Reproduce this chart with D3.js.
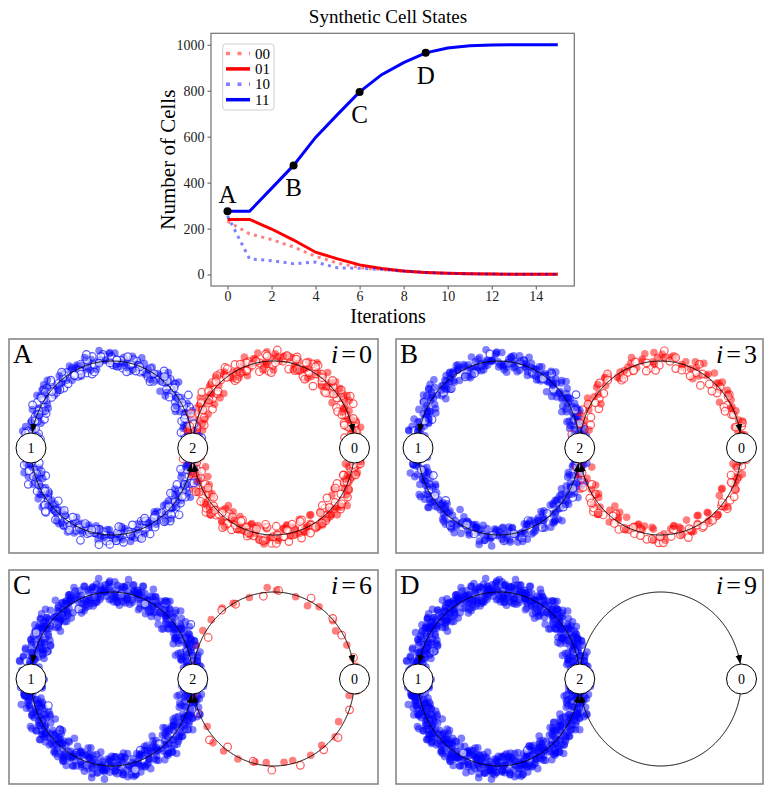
<!DOCTYPE html>
<html>
<head>
<meta charset="utf-8">
<script src="https://cdn.jsdelivr.net/npm/d3@7"></script>
<style>
  body { margin: 0; background: #fff; }
  svg { display: block; font-family: "Liberation Serif", "DejaVu Serif", serif; }
</style>
</head>
<body>
<svg id="chart" width="772" height="794"></svg>
<script>
// ---- values ----
const iterations = [0, 1, 2, 3, 4, 5, 6, 7, 8, 9, 10, 11, 12, 13, 14, 15];
const stateNames = ['00', '01', '10', '11'];
const cells00 = [232, 177, 152, 120, 79, 50, 30, 22, 14, 8, 5, 3, 2, 1, 1, 1];
const cells01 = [240, 240, 198, 150, 97, 68, 42, 26, 15, 9, 5, 3, 2, 1, 1, 1];
const cells10 = [255, 68, 60, 47, 54, 29, 27, 22, 15, 9, 5, 3, 2, 1, 1, 1];
const cells11 = [275, 275, 375, 475, 597, 697, 795, 870, 922, 965, 986, 996, 999, 1000, 1000, 1000];
const xTicks = [0, 2, 4, 6, 8, 10, 12, 14];
const yTicks = [0, 200, 400, 600, 800, 1000];
const markIters = [0, 3, 6, 9];
const markLabels = ['A', 'B', 'C', 'D'];

// scatter panels: how many cells of each state sit on the rings
const panelLabels = ['A', 'B', 'C', 'D'];
const panelIters = [0, 3, 6, 9];
const panel00 = [232, 120, 22, 0];
const panel01 = [240, 150, 32, 0];
const panel10 = [255, 47, 27, 8];
const panel11 = [275, 475, 795, 965];
const nodeNames = ['1', '2', '0'];   // left, middle, right

// spread tables used to scatter cells across the ring width
const jitterR = [0.42, -0.77, 0.15, 0.88, -0.31, -0.95, 0.63, 0.07, -0.52, 0.34, -0.12, 0.71, -0.66,
  0.26, 0.97, -0.41, -0.03, 0.55, -0.84, 0.19, 0.8, -0.23, -0.6, 0.46, 0.02, -0.9, 0.37, 0.68, -0.17,
  -0.48, 0.92, 0.11, -0.72, 0.58, -0.35, 0.29, -0.99];
const jitterA = [0.31, -0.64, 0.87, -0.12, 0.5, -0.93, 0.05, 0.72, -0.38, 0.19, -0.81, 0.6, -0.26,
  0.94, -0.55, 0.13, -0.07, 0.44, -0.7, 0.83, -0.45, 0.27, -0.98, 0.66, -0.19, 0.39, -0.6, 0.09, 0.77];

const stateStyle = {
  '00': {color: '#ff0000', opacity: 0.5, dash: '3,4.5', filled: false},
  '01': {color: '#ff0000', opacity: 1, dash: null, filled: true},
  '10': {color: '#0000ff', opacity: 0.5, dash: '3,4.5', filled: false},
  '11': {color: '#0000ff', opacity: 1, dash: null, filled: true}
};

const svg = d3.select('#chart');

svg.append('defs').append('marker')
    .attr('id', 'arrow')
    .attr('viewBox', '0 0 10 10')
    .attr('refX', 10)
    .attr('refY', 5)
    .attr('markerUnits', 'userSpaceOnUse')
    .attr('markerWidth', 9)
    .attr('markerHeight', 9)
    .attr('orient', 'auto')
  .append('path')
    .attr('d', 'M0,1.2L10,5L0,8.8Z')
    .attr('fill', '#000');

class CellStateChart {

    constructor(_config, _data) {
        this.config = {
          parentElement: _config.parentElement,
          left: 211, top: 33.3, width: 363.3, height: 252.7
        }
        this.data = _data;
        this.initVis();
    }

    initVis() {
        let vis = this;
        const c = vis.config;

        vis.xScale = d3.scaleLinear().domain([-0.75, 15.75]).range([c.left, c.left + c.width]);
        vis.yScale = d3.scaleLinear().domain([-50, 1050]).range([c.top + c.height, c.top]);

        vis.g = c.parentElement.append('g');

        vis.xAxisG = vis.g.append('g')
            .attr('transform', `translate(0,${c.top + c.height})`)
            .call(d3.axisBottom(vis.xScale).tickValues(xTicks).tickSize(3.5).tickSizeOuter(0).tickPadding(2));
        vis.yAxisG = vis.g.append('g')
            .attr('transform', `translate(${c.left},0)`)
            .call(d3.axisLeft(vis.yScale).tickValues(yTicks).tickFormat(d3.format('d'))
                .tickSize(3.5).tickSizeOuter(0).tickPadding(3));

        vis.g.selectAll('.domain').remove();
        vis.g.selectAll('.tick line').attr('stroke', '#555');
        vis.g.selectAll('.tick text')
            .attr('font-family', '"Liberation Serif", serif')
            .attr('font-size', 14)
            .attr('fill', '#222');

        vis.g.append('rect')
            .attr('x', c.left).attr('y', c.top)
            .attr('width', c.width).attr('height', c.height)
            .attr('fill', 'none').attr('stroke', '#707070').attr('stroke-width', 1.2);

        vis.g.append('text')
            .attr('x', 388).attr('y', 23)
            .attr('text-anchor', 'middle').attr('font-size', 19)
            .text('Synthetic Cell States');

        vis.g.append('text')
            .attr('x', 388).attr('y', 323)
            .attr('text-anchor', 'middle').attr('font-size', 20)
            .text('Iterations');

        vis.g.append('text')
            .attr('transform', `translate(175,${c.top + c.height / 2}) rotate(-90)`)
            .attr('text-anchor', 'middle').attr('font-size', 21)
            .text('Number of Cells');
    }

    renderVis() {
        let vis = this;

        const line = d3.line()
            .x((d, i) => vis.xScale(iterations[i]))
            .y(d => vis.yScale(d));

        vis.g.selectAll('.series')
            .data(vis.data)
          .join('path')
            .attr('class', 'series')
            .attr('d', d => line(d.values))
            .attr('fill', 'none')
            .attr('stroke', d => stateStyle[d.key].color)
            .attr('stroke-opacity', d => stateStyle[d.key].opacity)
            .attr('stroke-width', 3)
            .attr('stroke-dasharray', d => stateStyle[d.key].dash);

        // letter markers on the 11 curve
        const marks = markIters.map((it, i) => ({it, label: markLabels[i], v: cells11[iterations.indexOf(it)]}));
        vis.g.selectAll('.mark')
            .data(marks)
          .join('circle')
            .attr('class', 'mark')
            .attr('cx', d => vis.xScale(d.it))
            .attr('cy', d => vis.yScale(d.v))
            .attr('r', 4)
            .attr('fill', '#000');
        vis.g.selectAll('.mark-label')
            .data(marks)
          .join('text')
            .attr('class', 'mark-label')
            .attr('x', d => vis.xScale(d.it))
            .attr('y', (d, i) => vis.yScale(d.v) + (i === 0 ? -8 : 31))
            .attr('text-anchor', 'middle')
            .attr('font-size', 25)
            .text(d => d.label);

        // legend
        const lg = vis.g.append('g');
        lg.append('rect')
            .attr('x', 222.7).attr('y', 44).attr('width', 51.3).attr('height', 66).attr('rx', 3)
            .attr('fill', '#fff').attr('stroke', '#d0d0d0');
        const rows = lg.selectAll('.row')
            .data(vis.data)
          .join('g')
            .attr('class', 'row')
            .attr('transform', (d, i) => `translate(0,${53.5 + i * 15.4})`);
        rows.append('line')
            .attr('x1', 226).attr('x2', 250)
            .attr('stroke', d => stateStyle[d.key].color)
            .attr('stroke-opacity', d => stateStyle[d.key].opacity)
            .attr('stroke-width', 3.5)
            .attr('stroke-dasharray', d => stateStyle[d.key].dash ? '4,7.5' : null);
        rows.append('text')
            .attr('x', 255).attr('y', 5)
            .attr('font-size', 15)
            .text(d => d.key);
    }
}

class RingPanel {

    constructor(_config, _data) {
        this.config = {
          parentElement: _config.parentElement,
          x: _config.x, y: _config.y, w: _config.w, h: _config.h,
          spreadBlue: _config.spreadBlue || 0.12,
          spreadRed: _config.spreadRed || 0.12,
          nodeRadius: 15
        }
        this.data = _data;
        this.initVis();
    }

    initVis() {
        let vis = this;
        const c = vis.config;

        // node 1 at -2, node 2 at 0, node 0 at +2; rings of unit radius
        vis.xScale = d3.scaleLinear().domain([-2, 2]).range([c.x + 22, c.x + 345.5]);
        vis.yScale = d3.scaleLinear().domain([-1, 1]).range([c.y + 109 + 87, c.y + 109 - 87]);

        vis.g = c.parentElement.append('g');
        vis.g.append('rect')
            .attr('x', c.x).attr('y', c.y).attr('width', c.w).attr('height', c.h)
            .attr('fill', '#fff').attr('stroke', '#808080').attr('stroke-width', 1.5);
    }

    renderVis() {
        let vis = this;
        const c = vis.config;
        const counts = vis.data.counts;

        // cells on the rings
        let pts = [];
        stateNames.forEach((s, si) => {
            const n = counts[si];
            const cx = si < 2 ? 1 : -1;
            const spread = si < 2 ? c.spreadRed : c.spreadBlue;
            for (let k = 0; k < n; k++) {
                const u = (k * 0.6180339887 + si * 0.173) % 1;
                const t = 2 * Math.PI * u + 0.03 * jitterA[(k + si * 7) % 29];
                const dr = spread * (0.7 * jitterR[(k * 3 + si * 5) % 37] + 0.3 * jitterA[(k * 7 + si) % 29]);
                pts.push({state: s, order: (k + 0.5) / n + si * 0.0001,
                          x: cx + (1 + dr) * Math.cos(t), y: (1 + dr) * Math.sin(t)});
            }
        });
        pts.sort((a, b) => a.order - b.order);

        vis.g.append('g').selectAll('circle')
            .data(pts)
          .join('circle')
            .attr('cx', d => vis.xScale(d.x))
            .attr('cy', d => vis.yScale(d.y))
            .attr('r', 3.8)
            .attr('fill', d => stateStyle[d.state].filled ? stateStyle[d.state].color : '#fff')
            .attr('fill-opacity', d => stateStyle[d.state].filled ? 0.5 : 0.6)
            .attr('stroke', d => stateStyle[d.state].color)
            .attr('stroke-opacity', d => stateStyle[d.state].filled ? 0 : 0.65)
            .attr('stroke-width', 1.2);

        // transition arcs: 2 -> 1 -> 2 on the left, 2 -> 0 -> 2 on the right
        const R = c.nodeRadius;
        const arcs = [
            {cx: -1, t0: 0, t1: Math.PI, from: 0, to: -2},
            {cx: -1, t0: Math.PI, t1: 2 * Math.PI, from: -2, to: 0},
            {cx: 1, t0: Math.PI, t1: 0, from: 0, to: 2},
            {cx: 1, t0: 2 * Math.PI, t1: Math.PI, from: 2, to: 0}
        ];
        const arcPoints = a => {
            const p0 = [vis.xScale(a.from), vis.yScale(0)];
            const p1 = [vis.xScale(a.to), vis.yScale(0)];
            return d3.range(401).map(i => {
                const t = a.t0 + (a.t1 - a.t0) * i / 400;
                return [vis.xScale(a.cx + Math.cos(t)), vis.yScale(Math.sin(t))];
            }).filter(p => Math.hypot(p[0] - p0[0], p[1] - p0[1]) > R &&
                           Math.hypot(p[0] - p1[0], p[1] - p1[1]) > R);
        };
        vis.g.selectAll('.arc')
            .data(arcs)
          .join('path')
            .attr('class', 'arc')
            .attr('d', d => d3.line()(arcPoints(d)))
            .attr('fill', 'none')
            .attr('stroke', '#000')
            .attr('stroke-width', 1)
            .attr('marker-end', 'url(#arrow)');

        // nodes
        const nodes = nodeNames.map((name, i) => ({name, pos: -2 + 2 * i}));
        const ng = vis.g.selectAll('.node')
            .data(nodes)
          .join('g')
            .attr('class', 'node')
            .attr('transform', d => `translate(${vis.xScale(d.pos)},${vis.yScale(0)})`);
        ng.append('circle')
            .attr('r', R).attr('fill', '#fff').attr('stroke', '#000').attr('stroke-width', 1);
        ng.append('text')
            .attr('text-anchor', 'middle').attr('dy', '0.35em')
            .attr('font-size', 14)
            .text(d => d.name);

        // panel letter and iteration
        vis.g.append('text')
            .attr('x', c.x + 4).attr('y', c.y + 24)
            .attr('font-size', 27)
            .text(vis.data.label);
        const it = vis.g.append('text')
            .attr('x', c.w + c.x - 6).attr('y', c.y + 24)
            .attr('text-anchor', 'end')
            .attr('font-size', 26);
        it.append('tspan').attr('font-style', 'italic').text('i');
        it.append('tspan').attr('dx', 3).text('=');
        it.append('tspan').attr('dx', 3).text(vis.data.iter);
    }
}

const lineData = [
    {key: '00', values: cells00},
    {key: '01', values: cells01},
    {key: '10', values: cells10},
    {key: '11', values: cells11}
];
const lineChart = new CellStateChart({parentElement: svg}, lineData);
lineChart.renderVis();

const boxes = [
    {x: 9, y: 339, w: 369, h: 214, spreadBlue: 0.14, spreadRed: 0.14},
    {x: 396, y: 339, w: 367, h: 214, spreadBlue: 0.15, spreadRed: 0.13},
    {x: 9, y: 570, w: 369, h: 214, spreadBlue: 0.18, spreadRed: 0.07},
    {x: 396, y: 570, w: 367, h: 214, spreadBlue: 0.18, spreadRed: 0.07}
];
panelLabels.forEach((label, i) => {
    const p = new RingPanel(Object.assign({parentElement: svg}, boxes[i]), {
        label: label,
        iter: panelIters[i],
        counts: [panel00[i], panel01[i], panel10[i], panel11[i]]
    });
    p.renderVis();
});
</script>
</body>
</html>
